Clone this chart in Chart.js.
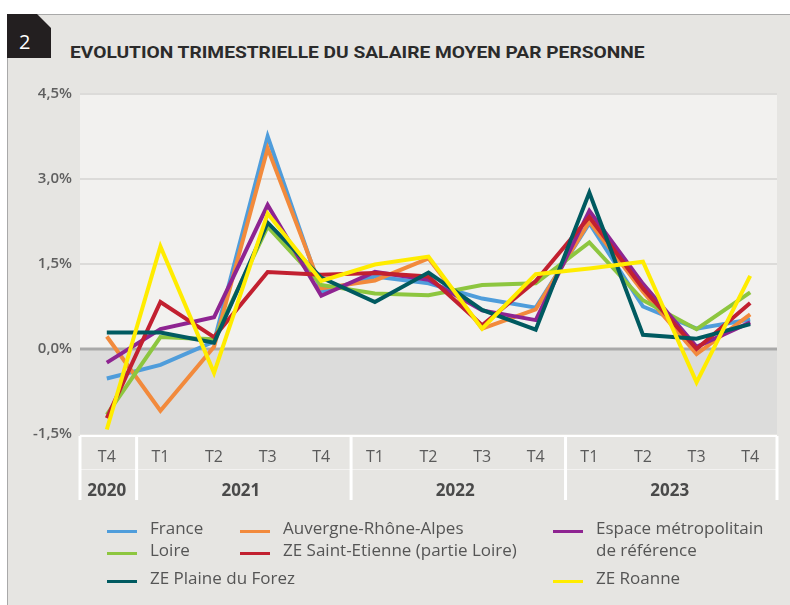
<!DOCTYPE html>
<html>
<head>
<meta charset="utf-8">
<script src="https://cdn.jsdelivr.net/npm/chart.js@4.4.1/dist/chart.umd.min.js"></script>
<style>
  body { margin: 0; width: 790px; height: 605px; overflow: hidden; position: relative; background: #fff; font-family: "Open Sans", sans-serif; }
  #panel { position: absolute; left: 7px; top: 14px; width: 783px; height: 591px; background: #e6e5e2; border-top: 1px solid #a9a9a9; border-left: 1px solid #a9a9a9; box-sizing: border-box; }
  #tab { position: absolute; left: 7px; top: 14px; width: 44px; height: 44px; background: #231f20; clip-path: polygon(0 0, 30px 0, 44px 14px, 44px 44px, 0 44px); }
  #tab span { position: absolute; left: 12px; top: 14px; color: #fff; font-size: 20px; line-height: 28px; }
  #title { position: absolute; left: 70px; top: 41px; font-family: Roboto, sans-serif; font-weight: 700; font-size: 17px; line-height: 22px; color: #2b2b2b; white-space: nowrap; transform-origin: 0 50%; }
  canvas { position: absolute; left: 0; top: 0; }
  .lg-line { position: absolute; width: 30px; height: 3px; }
  .lg-text { position: absolute; font-size: 17px; line-height: 22px; color: #555; white-space: nowrap; }
</style>
</head>
<body>
<div id="panel"></div>
<div id="tab"><span>2</span></div>
<div id="title">EVOLUTION TRIMESTRIELLE DU SALAIRE MOYEN PAR PERSONNE</div>
<canvas id="salaryChart" width="790" height="605"></canvas>
<div id="legend"></div>
<script>
const quarters = ["T4", "T1", "T2", "T3", "T4", "T1", "T2", "T3", "T4", "T1", "T2", "T3", "T4"];
const years = ["2020", "2021", "2022", "2023"];
const yearSpans = [1, 4, 4, 4];

const france    = [-0.52, -0.28, 0.13, 3.75, 1.01, 1.28, 1.16, 0.89, 0.73, 2.22, 0.75, 0.36, 0.52];
const ara       = [0.22, -1.09, 0.04, 3.54, 1.07, 1.21, 1.60, 0.36, 0.70, 2.25, 1.01, -0.09, 0.61];
const espace    = [-0.24, 0.35, 0.56, 2.54, 0.94, 1.36, 1.22, 0.68, 0.51, 2.44, 1.15, 0.04, 0.47];
const loire     = [-1.16, 0.21, 0.17, 2.16, 1.13, 0.98, 0.95, 1.13, 1.16, 1.88, 0.86, 0.35, 1.00];
const stEtienne = [-1.22, 0.83, 0.21, 1.36, 1.31, 1.34, 1.28, 0.42, 1.20, 2.33, 1.07, 0.00, 0.81];
const forez     = [0.29, 0.29, 0.11, 2.23, 1.26, 0.83, 1.35, 0.69, 0.34, 2.76, 0.25, 0.18, 0.44];
const roanne    = [-1.42, 1.81, -0.42, 2.39, 1.20, 1.49, 1.63, 0.36, 1.32, 1.42, 1.54, -0.59, 1.29];

const seriesNames = ["France", "Auvergne-Rhône-Alpes", "Espace métropolitain\nde référence", "Loire", "ZE Saint-Etienne (partie Loire)", "ZE Plaine du Forez", "ZE Roanne"];
const seriesData = [france, ara, espace, loire, stEtienne, forez, roanne];
const seriesColors = ["#4f9ddb", "#f28a3c", "#8e2491", "#8dc63f", "#c22030", "#005a60", "#ffec00"];
const drawOrder = [7, 6, 4, 5, 3, 2, 1];

const backdrop = {
    id: "backdrop",
    beforeDatasetsDraw(chart) {
        const { ctx, chartArea: a, scales: { y } } = chart;
        const zero = y.getPixelForValue(0);
        ctx.save();
        ctx.fillStyle = "#f2f1ef";
        ctx.fillRect(a.left, a.top, a.right - a.left, zero - a.top);
        ctx.fillStyle = "#dcdcdb";
        ctx.fillRect(a.left, zero, a.right - a.left, a.bottom - zero);
        y.ticks.forEach(t => {
            if (t.value <= 0) return;
            const py = y.getPixelForValue(t.value);
            ctx.strokeStyle = "#dcdbd9";
            ctx.lineWidth = 2;
            ctx.beginPath();
            ctx.moveTo(a.left, py);
            ctx.lineTo(a.right, py);
            ctx.stroke();
        });
        ctx.strokeStyle = "#a9a9a9";
        ctx.lineWidth = 3;
        ctx.beginPath();
        ctx.moveTo(a.left, zero);
        ctx.lineTo(a.right, zero);
        ctx.stroke();
        ctx.restore();
    },
    afterDraw(chart) {
        const { ctx, chartArea: a, scales: { x } } = chart;
        const top = a.bottom + 2;
        const bottom = 500;
        ctx.save();
        ctx.strokeStyle = "#ffffff";
        ctx.lineWidth = 2;
        ctx.beginPath();
        ctx.moveTo(a.left, top);
        ctx.lineTo(a.right, top);
        ctx.stroke();
        ctx.strokeStyle = "rgba(255,255,255,0.5)";
        ctx.lineWidth = 1;
        ctx.beginPath();
        ctx.moveTo(a.left, 469.5);
        ctx.lineTo(a.right, 469.5);
        ctx.stroke();

        // year groups
        ctx.strokeStyle = "#ffffff";
        ctx.lineWidth = 3;
        ctx.fillStyle = "#4a4a4a";
        ctx.font = "bold 17px 'Open Sans'";
        ctx.textAlign = "center";
        ctx.textBaseline = "middle";
        let start = 0;
        const edges = [a.left];
        years.forEach((yr, i) => {
            const end = start + yearSpans[i] - 1;
            const cx = (x.getPixelForValue(start) + x.getPixelForValue(end)) / 2;
            ctx.fillText(yr, cx, 491);
            if (end < quarters.length - 1) {
                edges.push((x.getPixelForValue(end) + x.getPixelForValue(end + 1)) / 2 + 3);
            }
            start = end + 1;
        });
        edges.push(a.right);
        edges.forEach(ex => {
            ctx.beginPath();
            ctx.moveTo(ex, top);
            ctx.lineTo(ex, bottom);
            ctx.stroke();
        });
        ctx.restore();
    }
};

const ctx = document.getElementById("salaryChart").getContext("2d");
new Chart(ctx, {
    type: "line",
    data: {
        labels: quarters,
        datasets: seriesData.map((d, i) => ({
            label: seriesNames[i],
            data: d,
            borderColor: seriesColors[i],
            backgroundColor: seriesColors[i],
            borderWidth: 4,
            borderJoinStyle: "miter",
            pointRadius: 0,
            tension: 0,
            order: drawOrder[i]
        }))
    },
    options: {
        responsive: false,
        animation: false,
        layout: { padding: { top: 94, right: 13, left: 0, bottom: 0 } },
        plugins: { legend: { display: false }, tooltip: { enabled: false } },
        scales: {
            x: {
                offset: true,
                grid: { display: false, drawTicks: false },
                border: { display: false },
                ticks: { color: "#5a5a5a", font: { family: "Open Sans", size: 16 }, padding: 14, maxRotation: 0, autoSkip: false },
                afterFit(scale) { scale.height = 171; }
            },
            y: {
                min: -1.5,
                max: 4.5,
                grid: { display: false, drawTicks: false },
                border: { display: false },
                ticks: {
                    stepSize: 1.5,
                    color: "#5f5f5f",
                    font: { family: "Open Sans", size: 15, weight: "600" },
                    padding: 8,
                    callback: v => v.toFixed(1).replace(".", ",") + "%"
                },
                afterFit(scale) { scale.width = 80; }
            }
        }
    },
    plugins: [backdrop]
});

// legend, three columns as in the original
const legendSpots = [
    [107, 529], [240, 529], [553, 529],
    [107, 551], [240, 551], [553, 579],
    [107, 579]
];
const legendOrder = [0, 1, 2, 3, 4, 6, 5];
const legend = document.getElementById("legend");
legendOrder.forEach((si, k) => {
    const [lx, ly] = legendSpots[k];
    const line = document.createElement("div");
    line.className = "lg-line";
    line.style.left = lx + "px";
    line.style.top = (ly + 1) + "px";
    line.style.background = seriesColors[si];
    legend.appendChild(line);
    seriesNames[si].split("\n").forEach((txt, j) => {
        const t = document.createElement("div");
        t.className = "lg-text";
        t.textContent = txt;
        t.style.left = (lx + 43) + "px";
        t.style.top = (ly - 12 + j * 22) + "px";
        legend.appendChild(t);
    });
});

// squeeze the title to the width it has in the original
const title = document.getElementById("title");
title.style.transform = "scaleX(" + (574 / title.offsetWidth) + ")";
</script>
</body>
</html>
